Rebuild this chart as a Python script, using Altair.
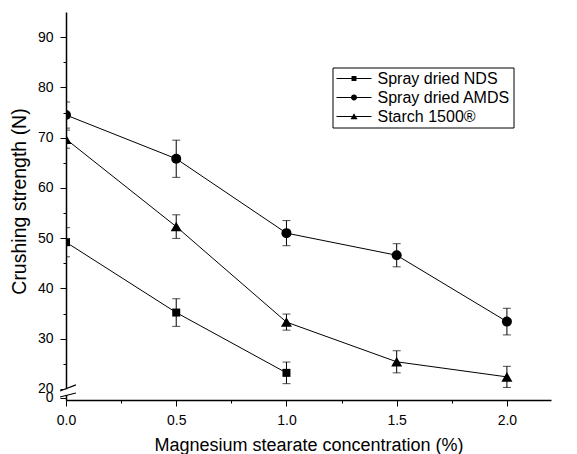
import altair as alt
import pandas as pd

# Magnesium stearate concentration (%) and crushing strength (N): mean and SD
conc = [0.0, 0.5, 1.0, 1.5, 2.0]
series_names = ["Spray dried NDS", "Spray dried AMDS", "Starch 1500®"]
nds_mean = [49.2, 35.2, 23.2]
nds_sd = [2.9, 2.75, 2.15]
amds_mean = [74.5, 65.8, 51.0, 46.6, 33.4]
amds_sd = [2.6, 3.7, 2.5, 2.3, 2.65]
starch_mean = [69.7, 52.3, 33.3, 25.4, 22.4]
starch_sd = [1.8, 2.35, 1.6, 2.2, 2.1]

# axis ticks
x_major = [0.0, 0.5, 1.0, 1.5, 2.0]
x_minor = [0.25, 0.75, 1.25, 1.75]
y_major = [20, 30, 40, 50, 60, 70, 80, 90]
y_minor = [25, 35, 45, 55, 65, 75, 85]

# the y axis is broken between 0 and 20; "0" sits just below the break
ZERO_AT = 18.2
y_ticks = [ZERO_AT] + y_major

FONT = "Liberation Sans, Arial, sans-serif"

rows = []
for name, means, sds in [
    (series_names[0], nds_mean, nds_sd),
    (series_names[1], amds_mean, amds_sd),
    (series_names[2], starch_mean, starch_sd),
]:
    for c, m, s in zip(conc, means, sds):
        rows.append({"series": name, "conc": c, "mean": m, "lo": m - s, "hi": m + s})
df = pd.DataFrame(rows)

xscale = alt.Scale(domain=[0, 2.2], nice=False, zero=False)
yscale = alt.Scale(domain=[17.8, 95], nice=False, zero=False)


def xenc(field="conc", axis=None):
    return alt.X(f"{field}:Q", scale=xscale, axis=axis)


def yenc(field="mean", axis=None):
    return alt.Y(f"{field}:Q", scale=yscale, axis=axis)


x_axis = alt.Axis(
    values=x_major,
    format=".1f",
    labelFlush=False,
    labelOverlap=False,
    tickSize=6,
    labelPadding=7,
    grid=False,
    title="Magnesium stearate concentration (%)",
    titleY=50,
    titleBaseline="alphabetic",
)
y_axis = alt.Axis(
    values=y_ticks,
    labelExpr=f"datum.value < {ZERO_AT + 0.5} ? '0' : format(datum.value, 'd')",
    labelOverlap=False,
    labelFlush=False,
    tickSize=6,
    labelPadding=7,
    grid=False,
    title="Crushing strength (N)",
    titleFontSize=19.5,
    titleAngle=270,
    titleX=-41,
    titleY=189,
    titleAlign="center",
    titleBaseline="alphabetic",
)

base = alt.Chart(df)

lines = base.mark_line(color="black", strokeWidth=1, clip=True).encode(
    x=xenc(axis=x_axis), y=yenc("mean", y_axis), detail="series:N"
)

err = base.mark_rule(color="black", strokeWidth=1, clip=True).encode(
    x=xenc(), y=yenc("lo"), y2="hi:Q"
)
cap_lo = base.mark_tick(
    color="black", orient="horizontal", size=8, thickness=1, clip=True
).encode(x=xenc(), y=yenc("lo"))
cap_hi = base.mark_tick(
    color="black", orient="horizontal", size=8, thickness=1, clip=True
).encode(x=xenc(), y=yenc("hi"))

marker_style = {
    series_names[0]: ("square", 64),
    series_names[1]: ("circle", 100),
    series_names[2]: ("triangle-up", 121),
}
point_layers = []
for name in series_names:
    shp, sz = marker_style[name]
    point_layers.append(
        base.transform_filter(alt.datum.series == name)
        .mark_point(shape=shp, size=sz, filled=True, color="black", opacity=1, clip=True)
        .encode(x=xenc(), y=yenc("mean"))
    )

# minor ticks on both axes
minor_axes = (
    base.transform_filter("false")
    .mark_point()
    .encode(
        x=xenc(
            axis=alt.Axis(
                values=x_minor, labels=False, domain=False, tickSize=3,
                grid=False, title=None, orient="bottom",
            )
        ),
        y=yenc(
            "mean",
            alt.Axis(
                values=y_minor, labels=False, domain=False, tickSize=3,
                grid=False, title=None, orient="left",
            ),
        ),
    )
)

# axis break: white gap in the y axis and two slashes
gap = pd.DataFrame({"x": [0.0], "y": [18.8], "y2": [19.95]})
gap_mark = alt.Chart(gap).mark_rule(color="white", strokeWidth=4).encode(
    x=xenc("x"), y=yenc("y"), y2="y2:Q"
)
slashes = pd.DataFrame(
    {"x": [-0.027, -0.027], "x2": [0.045, 0.045], "y": [19.6, 18.4], "y2": [20.8, 19.2]}
)
slash_mark = alt.Chart(slashes).mark_rule(color="black", strokeWidth=1.2).encode(
    x=xenc("x"), x2="x2:Q", y=yenc("y"), y2="y2:Q"
)

# legend: a line through each marker, drawn as filled custom symbol paths
# (unit = half the symbol width; markers are small fractions of it)
LEG_LINE = "M-1,-0.03H1V0.03H-1Z"
legend_paths = [
    LEG_LINE + "M-0.14,-0.14H0.14V0.14H-0.14Z",
    LEG_LINE + "M0.17,0A0.17,0.17,0,1,1,-0.17,0A0.17,0.17,0,1,1,0.17,0Z",
    LEG_LINE + "M0,-0.19L0.2,0.15L-0.2,0.15Z",
]
legend_layer = (
    alt.Chart(pd.DataFrame({"series": series_names}))
    .transform_filter("false")
    .mark_point(filled=True, color="black", size=1225, opacity=1)
    .encode(
        shape=alt.Shape(
            "series:N",
            scale=alt.Scale(domain=series_names, range=legend_paths),
            legend=alt.Legend(
                title=None,
                orient="none",
                legendX=266.5,
                legendY=55.5,
                strokeColor="black",
                fillColor="white",
                padding=3,
                labelFont=FONT,
                labelFontSize=16,
                labelColor="black",
                symbolSize=1225,
                labelOffset=5,
                rowPadding=3,
                clipHeight=16,
                symbolFillColor="black",
            ),
        )
    )
)

chart = (
    alt.layer(
        lines, err, cap_lo, cap_hi, *point_layers, minor_axes, gap_mark, slash_mark, legend_layer
    )
    .resolve_axis(x="independent", y="independent")
    .properties(
        width=485,
        height=388,
        padding={"left": 66, "top": 12, "right": 26, "bottom": 54},
        autosize=alt.AutoSizeParams(type="none"),
        background="white",
    )
    .configure_view(strokeWidth=0)
    .configure_axis(
        labelFont=FONT,
        labelFontSize=14,
        labelColor="black",
        titleFont=FONT,
        titleFontSize=18,
        titleFontWeight="normal",
        titleColor="black",
        domainColor="black",
        domainWidth=1.5,
        tickColor="black",
        tickWidth=1,
    )
)

chart.save("out.html", embed_options={"renderer": "svg", "actions": False})
